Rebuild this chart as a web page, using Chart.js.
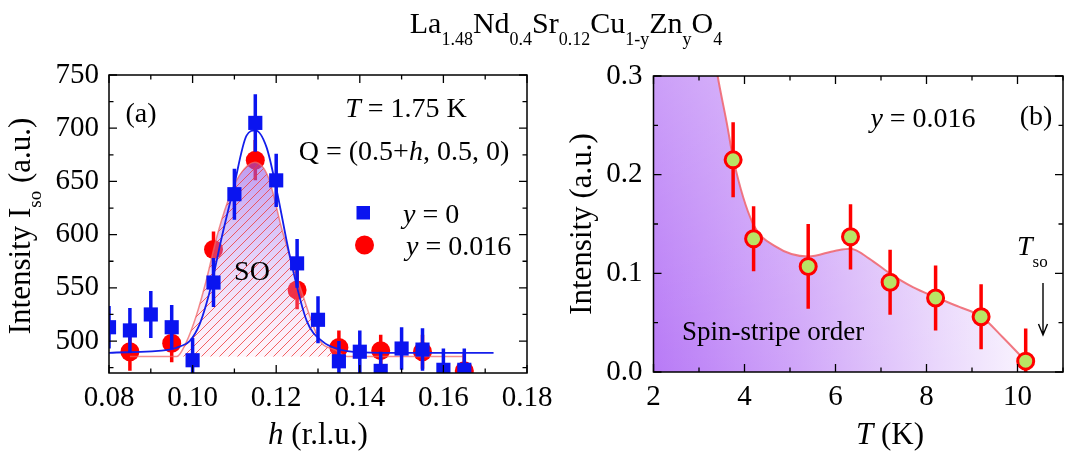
<!DOCTYPE html>
<html>
<head>
<meta charset="utf-8">
<script src="https://cdn.jsdelivr.net/npm/chart.js@4.4.1/dist/chart.umd.min.js"></script>
<style>
  body { margin: 0; background: #fff; }
  #wrap { position: relative; width: 1074px; height: 452px; }
  canvas { position: absolute; left: 0; top: 0; }
</style>
</head>
<body>
<div id="wrap">
  <canvas id="scanChart" width="1074" height="452"></canvas>
  <canvas id="tempChart" width="1074" height="452"></canvas>
</div>
<script>
// ---- panel (a): h scans at T = 1.75 K ----
const hTicks = [0.08, 0.10, 0.12, 0.14, 0.16, 0.18];
const isoTicks = [500, 550, 600, 650, 700, 750];

// y = 0 (blue squares)
const hZn0 = [0.080, 0.085, 0.090, 0.095, 0.100, 0.105, 0.110, 0.115, 0.120, 0.125, 0.130, 0.135, 0.140, 0.145, 0.150, 0.155, 0.160, 0.165];
const isoZn0 = [513, 510, 525, 513, 482, 555, 638, 705, 651, 573, 520, 481, 490, 472, 493, 492, 473, 473];
const errZn0 = [20, 21, 22, 21, 21, 23, 24, 27, 25, 23, 22, 19, 20, 18, 20, 20, 20, 20];

// y = 0.016 (red circles)
const hZn16 = [0.085, 0.095, 0.105, 0.115, 0.125, 0.135, 0.145, 0.155, 0.165];
const isoZn16 = [490, 498, 586, 670, 548, 494, 491, 490, 472];
const errZn16 = [18, 18, 17, 19, 18, 16, 15, 16, 16];

// fit through the y = 0 scan
const fitH = [0.080, 0.0945, 0.097, 0.0993, 0.1017, 0.1033, 0.1045, 0.107, 0.1097, 0.1129, 0.1150, 0.1177, 0.1201, 0.1233, 0.1273, 0.1313, 0.1345, 0.137, 0.145, 0.172];
const fitIso = [489, 492, 495, 500, 516, 535, 553, 598, 642, 693, 698, 682, 642, 579, 519, 499, 493, 490.5, 489, 489];

// shaded SO peak of the y = 0.016 scan
const soH = [0.085, 0.0962, 0.0985, 0.1009, 0.1032, 0.1058, 0.1083, 0.1111, 0.1149, 0.1181, 0.1215, 0.1257, 0.1305, 0.134, 0.137, 0.165];
const soIso = [485.5, 485.5, 499, 524, 556, 598, 630, 655, 668, 654, 603, 551, 500, 492, 485.5, 485.5];
const soBase = 485.5;

// ---- panel (b): temperature dependence, y = 0.016 ----
const tTicks = [2, 4, 6, 8, 10];
const intTicks = [0.0, 0.1, 0.2, 0.3];
const tempT = [3.75, 4.2, 5.4, 6.33, 7.2, 8.2, 9.2, 10.18];
const tempInt = [0.215, 0.135, 0.107, 0.137, 0.091, 0.075, 0.056, 0.011];
const tempErr = [0.038, 0.033, 0.043, 0.033, 0.033, 0.033, 0.033, 0.033];

// guide line (leaves the frame at the top left)
const guideT = [2.0, 3.0, 3.41, 3.61, 3.76, 4.18, 4.69, 5.4, 6.0, 6.33, 6.74, 7.2, 7.7, 8.19, 8.72, 9.2, 9.67, 10.18];
const guideInt = [0.7, 0.42, 0.3, 0.2525, 0.2145, 0.151, 0.127, 0.117, 0.123, 0.125, 0.115, 0.0997, 0.086, 0.076, 0.066, 0.0564, 0.0355, 0.011];

const SERIF = '"Liberation Serif", "Times New Roman", serif';
Chart.defaults.font.family = SERIF;
Chart.defaults.color = "#000";
const tickFont = { family: SERIF, size: 29 };

const pts = (xs, ys) => xs.map((x, i) => ({ x: x, y: ys[i] }));

// text made of runs: {t, i: italic, sub: subscript}
function drawRuns(ctx, runs, x, y, size, align, subSize, subDrop) {
    const sSize = subSize || size * 0.62;
    const drop = subDrop || size * 0.38;
    const font = r => (r.i ? "italic " : "") + (r.sub ? sSize : size) + "px " + SERIF;
    let w = 0;
    runs.forEach(r => { ctx.font = font(r); w += ctx.measureText(r.t).width; });
    let cx = align === "center" ? x - w / 2 : (align === "right" ? x - w : x);
    ctx.textAlign = "left";
    ctx.textBaseline = "alphabetic";
    runs.forEach(r => {
        ctx.font = font(r);
        ctx.fillText(r.t, cx, y + (r.sub ? drop : 0));
        cx += ctx.measureText(r.t).width;
    });
}

// error bars drawn just before the point dataset
const errorBars = {
    id: "errorBars",
    beforeDatasetDraw(chart, args) {
        const ds = chart.data.datasets[args.index];
        if (!ds.errors) return;
        const { ctx, chartArea: a, scales: { x, y } } = chart;
        ctx.save();
        ctx.beginPath();
        ctx.rect(a.left, a.top, a.right - a.left, a.bottom - a.top);
        ctx.clip();
        ctx.strokeStyle = ds.errorColor;
        ctx.lineWidth = 3.5;
        ctx.beginPath();
        ds.data.forEach((p, i) => {
            const px = x.getPixelForValue(p.x);
            ctx.moveTo(px, y.getPixelForValue(p.y - ds.errors[i]));
            ctx.lineTo(px, y.getPixelForValue(p.y + ds.errors[i]));
        });
        ctx.stroke();
        ctx.restore();
    }
};

// closed frame with inward ticks on all sides
function sideTicks(ctx, scale, step, horizontal, a) {
    const majors = scale.ticks.map(t => t.value);
    const start = Math.ceil(scale.min / step - 1e-6) * step;
    const n = Math.floor((scale.max - start) / step + 1e-6);
    for (let k = 0; k <= n; k++) {
        const v = start + k * step;
        const len = majors.some(m => Math.abs(m - v) < step / 100) ? 8 : 4.5;
        const p = scale.getPixelForValue(v);
        if (horizontal) {
            ctx.moveTo(p, a.bottom); ctx.lineTo(p, a.bottom - len);
            ctx.moveTo(p, a.top); ctx.lineTo(p, a.top + len);
        } else {
            ctx.moveTo(a.left, p); ctx.lineTo(a.left + len, p);
            ctx.moveTo(a.right, p); ctx.lineTo(a.right - len, p);
        }
    }
}
const frameTicks = {
    id: "frameTicks",
    afterDatasetsDraw(chart, args, opts) {
        const { ctx, chartArea: a, scales: { x, y } } = chart;
        ctx.save();
        ctx.strokeStyle = "#000";
        ctx.lineWidth = 1.5;
        ctx.strokeRect(a.left, a.top, a.right - a.left, a.bottom - a.top);
        ctx.lineWidth = 1.3;
        ctx.beginPath();
        sideTicks(ctx, x, opts.xStep, true, a);
        sideTicks(ctx, y, opts.yStep, false, a);
        ctx.stroke();
        ctx.restore();
    }
};

const scanCanvas = document.getElementById("scanChart");
const scanCtx = scanCanvas.getContext("2d");

function hatchPattern() {
    const c = document.createElement("canvas");
    c.width = 9; c.height = 9;
    const g = c.getContext("2d");
    g.strokeStyle = "rgba(240,60,60,0.8)";
    g.lineWidth = 1;
    g.beginPath();
    g.moveTo(0, 9); g.lineTo(9, 0);
    g.moveTo(-1, 1); g.lineTo(1, -1);
    g.moveTo(8, 10); g.lineTo(10, 8);
    g.stroke();
    return scanCtx.createPattern(c, "repeat");
}

const soGradient = (context) => {
    const chart = context.chart;
    if (!chart.chartArea) return null;
    const y = chart.scales.y;
    const g = chart.ctx.createLinearGradient(0, y.getPixelForValue(670), 0, y.getPixelForValue(soBase));
    g.addColorStop(0, "rgba(145,85,230,0.6)");
    g.addColorStop(0.5, "rgba(185,140,240,0.38)");
    g.addColorStop(1, "rgba(255,190,225,0.15)");
    return g;
};

const scanLabels = {
    id: "scanLabels",
    afterDraw(chart) {
        const ctx = chart.ctx;
        ctx.save();
        ctx.fillStyle = "#000";
        drawRuns(ctx, [{ t: "(a)" }], 141, 122, 28, "center");
        drawRuns(ctx, [{ t: "T", i: true }, { t: " = 1.75 K" }], 406, 117, 28, "center");
        drawRuns(ctx, [{ t: "Q = (0.5+" }, { t: "h", i: true }, { t: ", 0.5, 0)" }], 404, 160, 28, "center");
        drawRuns(ctx, [{ t: "SO" }], 252, 280, 28, "center");
        // legend
        ctx.fillStyle = "rgb(10,20,240)";
        ctx.fillRect(356.5, 206, 13.5, 13.5);
        ctx.fillStyle = "#ff0000";
        ctx.beginPath();
        ctx.arc(364.5, 245, 9.5, 0, Math.PI * 2);
        ctx.fill();
        ctx.fillStyle = "#000";
        drawRuns(ctx, [{ t: "y", i: true }, { t: " = 0" }], 403, 223, 28, "left");
        drawRuns(ctx, [{ t: "y", i: true }, { t: " = 0.016" }], 406, 255, 28, "left");
        // axis titles
        drawRuns(ctx, [{ t: "h", i: true }, { t: " (r.l.u.)" }], 318, 444, 31, "center");
        ctx.translate(30, 226);
        ctx.rotate(-Math.PI / 2);
        drawRuns(ctx, [{ t: "Intensity I" }, { t: "so", sub: true }, { t: " (a.u.)" }], 0, 0, 31, "center", 19, 11);
        ctx.restore();
    }
};

new Chart(scanCtx, {
    type: "scatter",
    data: {
        datasets: [
            {
                label: "y = 0",
                data: pts(hZn0, isoZn0),
                errors: errZn0,
                errorColor: "rgb(10,20,240)",
                pointStyle: "rect",
                pointRadius: 10,
                borderWidth: 0,
                backgroundColor: "rgb(10,20,240)",
                order: 1
            },
            {
                label: "fit",
                type: "line",
                data: pts(fitH, fitIso),
                borderColor: "rgb(20,30,235)",
                borderWidth: 1.8,
                pointRadius: 0,
                cubicInterpolationMode: "monotone",
                fill: false,
                order: 3
            },
            {
                label: "SO hatch",
                type: "line",
                data: pts(soH, soIso),
                borderColor: "rgba(240,100,100,0.75)",
                borderWidth: 1.5,
                pointRadius: 0,
                cubicInterpolationMode: "monotone",
                fill: { value: soBase },
                backgroundColor: hatchPattern(),
                order: 4
            },
            {
                label: "SO",
                type: "line",
                data: pts(soH, soIso),
                borderWidth: 0,
                pointRadius: 0,
                cubicInterpolationMode: "monotone",
                fill: { value: soBase },
                backgroundColor: soGradient,
                order: 5
            },
            {
                label: "y = 0.016",
                data: pts(hZn16, isoZn16),
                errors: errZn16,
                errorColor: "#ff0000",
                pointStyle: "circle",
                pointRadius: 9.5,
                borderWidth: 0,
                backgroundColor: "#ff0000",
                order: 6
            }
        ]
    },
    options: {
        responsive: false,
        animation: false,
        events: [],
        layout: { padding: { left: 0, top: 75, right: 547, bottom: 0 } },
        plugins: {
            legend: { display: false },
            tooltip: { enabled: false },
            frameTicks: { xStep: 0.01, yStep: 25 }
        },
        scales: {
            x: {
                type: "linear",
                min: 0.08,
                max: 0.18,
                afterBuildTicks: s => { s.ticks = hTicks.map(v => ({ value: v })); },
                afterFit: s => { s.height = 79; },
                ticks: { font: tickFont, color: "#000", padding: 8, maxRotation: 0, callback: v => v.toFixed(2) },
                grid: { display: false, drawTicks: false },
                border: { display: false }
            },
            y: {
                min: 470,
                max: 750,
                afterBuildTicks: s => { s.ticks = isoTicks.map(v => ({ value: v })); },
                afterFit: s => { s.width = 109; },
                ticks: { font: tickFont, color: "#000", padding: 10, callback: v => String(v) },
                grid: { display: false, drawTicks: false },
                border: { display: false }
            }
        }
    },
    plugins: [errorBars, frameTicks, scanLabels]
});

// ---- panel (b) ----
const tempCtx = document.getElementById("tempChart").getContext("2d");

const orderGradient = (context) => {
    const chart = context.chart;
    const a = chart.chartArea;
    if (!a) return null;
    const g = chart.ctx.createLinearGradient(a.left, 0, a.right, 0);
    g.addColorStop(0, "rgb(184,122,246)");
    g.addColorStop(0.35, "rgb(208,166,249)");
    g.addColorStop(0.7, "rgb(234,216,252)");
    g.addColorStop(1, "rgb(255,255,255)");
    return g;
};
const orderSheen = (context) => {
    const chart = context.chart;
    const a = chart.chartArea;
    if (!a) return null;
    const g = chart.ctx.createLinearGradient(0, a.top, 0, a.bottom);
    g.addColorStop(0, "rgba(255,255,255,0.28)");
    g.addColorStop(1, "rgba(255,255,255,0)");
    return g;
};

const tempLabels = {
    id: "tempLabels",
    afterDraw(chart) {
        const ctx = chart.ctx;
        ctx.save();
        ctx.fillStyle = "#000";
        // figure title
        drawRuns(ctx, [
            { t: "La" }, { t: "1.48", sub: true },
            { t: "Nd" }, { t: "0.4", sub: true },
            { t: "Sr" }, { t: "0.12", sub: true },
            { t: "Cu" }, { t: "1-y", sub: true },
            { t: "Zn" }, { t: "y", sub: true },
            { t: "O" }, { t: "4", sub: true }
        ], 566, 33, 30, "center", 18, 11.5);
        drawRuns(ctx, [{ t: "y", i: true }, { t: " = 0.016" }], 923, 127, 28, "center");
        drawRuns(ctx, [{ t: "(b)" }], 1036, 125, 28, "center");
        drawRuns(ctx, [{ t: "Spin-stripe order" }], 682, 340, 27, "left");
        drawRuns(ctx, [{ t: "T", i: true }, { t: "so", sub: true }], 1017, 255, 28, "left", 17, 12);
        // arrow to T_so
        ctx.strokeStyle = "#000";
        ctx.lineWidth = 1.4;
        ctx.beginPath();
        ctx.moveTo(1043, 283); ctx.lineTo(1043, 335);
        ctx.moveTo(1038.5, 324); ctx.lineTo(1043, 335); ctx.lineTo(1047.5, 324);
        ctx.stroke();
        // axis titles
        drawRuns(ctx, [{ t: "T", i: true }, { t: " (K)" }], 890, 444, 31, "center");
        ctx.translate(591, 224);
        ctx.rotate(-Math.PI / 2);
        drawRuns(ctx, [{ t: "Intensity (a.u.)" }], 0, 0, 31, "center");
        ctx.restore();
    }
};

new Chart(tempCtx, {
    type: "scatter",
    data: {
        datasets: [
            {
                label: "y = 0.016",
                data: pts(tempT, tempInt),
                errors: tempErr,
                errorColor: "#ff0000",
                pointStyle: "circle",
                pointRadius: 8,
                borderWidth: 3,
                borderColor: "#ff0000",
                backgroundColor: "rgb(185,228,100)",
                order: 1
            },
            {
                label: "guide",
                type: "line",
                data: pts(guideT, guideInt),
                borderColor: "rgba(240,105,115,0.9)",
                borderWidth: 2,
                pointRadius: 0,
                cubicInterpolationMode: "monotone",
                fill: "origin",
                backgroundColor: orderSheen,
                order: 2
            },
            {
                label: "order",
                type: "line",
                data: pts(guideT, guideInt),
                borderWidth: 0,
                pointRadius: 0,
                cubicInterpolationMode: "monotone",
                fill: "origin",
                backgroundColor: orderGradient,
                order: 3
            }
        ]
    },
    options: {
        responsive: false,
        animation: false,
        events: [],
        layout: { padding: { left: 583.5, top: 76, right: 1, bottom: 0 } },
        plugins: {
            legend: { display: false },
            tooltip: { enabled: false },
            frameTicks: { xStep: 1, yStep: 0.05 }
        },
        scales: {
            x: {
                type: "linear",
                min: 2,
                max: 11,
                afterBuildTicks: s => { s.ticks = tTicks.map(v => ({ value: v })); },
                afterFit: s => { s.height = 80; },
                ticks: { font: tickFont, color: "#000", padding: 8, maxRotation: 0, callback: v => String(v) },
                grid: { display: false, drawTicks: false },
                border: { display: false }
            },
            y: {
                min: 0,
                max: 0.3,
                afterBuildTicks: s => { s.ticks = intTicks.map(v => ({ value: v })); },
                afterFit: s => { s.width = 70; },
                ticks: { font: tickFont, color: "#000", padding: 11, callback: v => v.toFixed(1) },
                grid: { display: false, drawTicks: false },
                border: { display: false }
            }
        }
    },
    plugins: [errorBars, frameTicks, tempLabels]
});
</script>
</body>
</html>
